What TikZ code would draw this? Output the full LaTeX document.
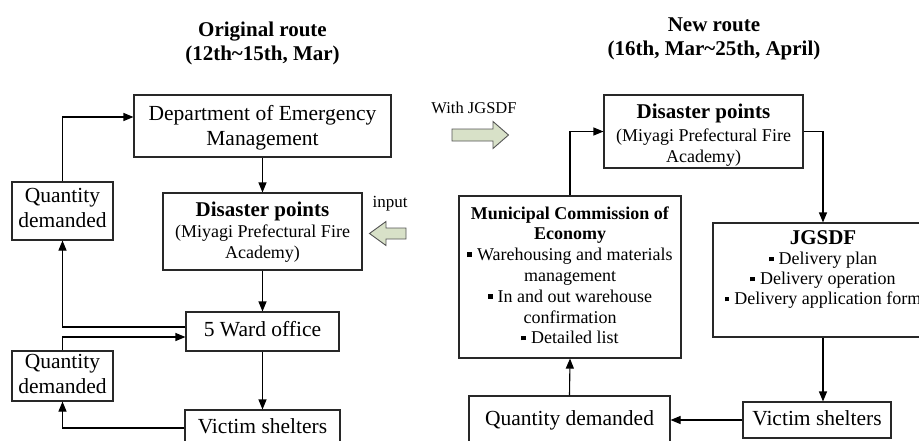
\documentclass[tikz,border=0pt]{standalone}
\usepackage{fontspec}
\setmainfont{Liberation Serif}
\usetikzlibrary{arrows.meta}
\definecolor{arrfill}{RGB}{216,225,200}
\definecolor{arrline}{RGB}{85,85,85}
\definecolor{boxline}{RGB}{40,40,40}
\newcommand\sqbul{\raisebox{0.2em}{\rule{0.26em}{0.26em}}\hspace{0.28em}}
\tikzset{
  box/.style={draw=boxline, line width=1.1pt, inner sep=0pt},
  txt/.style={inner sep=0pt, align=center},
  big/.style={font=\fontsize{21.5}{25}\selectfont},
  small/.style={font=\fontsize{18}{21}\selectfont},
  ttl/.style={inner sep=0pt, align=center, font=\fontsize{21}{24}\selectfont\bfseries},
  arr/.style={draw=black, line width=1.1pt, -{Triangle[length=10pt,width=8pt]}},
  blockarrow/.style={draw=arrline, fill=arrfill, line width=0.9pt, line join=miter}
}
\begin{document}
\begin{tikzpicture}[x=1pt,y=-1pt]
\clip (0,0) rectangle (919,440);
\fill[white] (0,0) rectangle (919,440);

% titles
\node[ttl] (t1) at (262.5,43.5) {Original route\\(12th\textasciitilde 15th, Mar)};
\node[ttl] (t2) at (714,39) {New route\\(16th, Mar\textasciitilde 25th, April)};

% ---------- left (original route) ----------
\node[box, minimum width=257, minimum height=62] (dept) at (262.5,126) {};
\node[txt, big] (deptt) at (262.5,128.2) {Department of Emergency\\Management};

\node[box, minimum width=199, minimum height=77] (dis1) at (262.5,231.5) {};
\node[txt, small] (dis1t) at (262.5,231.9) {{\fontsize{21}{21}\selectfont\bfseries Disaster points}\\(Miyagi Prefectural Fire\\Academy)};

\node[box, minimum width=101, minimum height=58] (qd1) at (62.5,211) {};
\node[txt, big] (qd1t) at (62.5,207.7) {Quantity\\demanded};

\node[box, minimum width=153, minimum height=39] (ward) at (262.5,331.5) {};
\node[inner sep=0pt, big, anchor=base] (wardt) at (262.5,336.7) {5 Ward office};

\node[box, minimum width=101, minimum height=50] (qd2) at (62.5,376) {};
\node[txt, big] (qd2t) at (62.5,373.5) {Quantity\\demanded};

\node[box, minimum width=155, minimum height=36] (vic1) at (262.5,428) {};
\node[inner sep=0pt, big, anchor=base] (vic1t) at (262.5,433) {Victim shelters};

\draw[arr] (qd1.north) |- ([yshift=9pt]dept.west);
\draw[arr] (dept.south) -- (dis1.north);
\draw[arr] (dis1.south) -- (ward.north);
\draw[arr] ([yshift=4.5pt]ward.west) -| (qd1.south);
\draw[arr] (qd2.north) |- ([yshift=-5.5pt]ward.west);
\draw[arr] (ward.south) -- (vic1.north);
\draw[arr] (vic1.west) -| (qd2.south);

% middle labels and block arrows
\node[inner sep=0pt, anchor=base, font=\fontsize{17}{20}\selectfont] (input) at (390,207.5) {input};
\node[inner sep=0pt, anchor=base, font=\fontsize{16.5}{20}\selectfont] (with) at (474,113) {With JGSDF};
\draw[blockarrow] (406,228) -- (386,228) -- (386,221.5) -- (369.5,233.5) -- (386,245.5) -- (386,239) -- (406,239) -- cycle;
\draw[blockarrow] (452,129) -- (493,129) -- (493,121.5) -- (508.5,135) -- (493,148.5) -- (493,141) -- (452,141) -- cycle;

% ---------- right (new route) ----------
\node[box, minimum width=199, minimum height=73] (dis2) at (703.5,131.5) {};
\node[txt, small] (dis2t) at (703.5,134.9) {{\fontsize{21}{21}\selectfont\bfseries Disaster points}\\[2pt](Miyagi Prefectural Fire\\Academy)};

\node[box, minimum width=222, minimum height=162] (mun) at (570,277) {};
\node[txt, font=\fontsize{18}{20.8}\selectfont] (munt) at (570,275.3) {\textbf{Municipal Commission of}\\\textbf{Economy}\\\sqbul Warehousing and materials\\management\\\sqbul In and out warehouse\\confirmation\\\sqbul Detailed list};

\node[box, minimum width=220, minimum height=114] (jg) at (823,280) {};
\node[txt, font=\fontsize{18}{20}\selectfont] (jgt) at (823,269.9) {{\fontsize{21}{20}\selectfont\bfseries JGSDF}\\\sqbul Delivery plan\\\sqbul Delivery operation\\\sqbul Delivery application form};

\node[box, minimum width=148, minimum height=36] (vic2) at (817,420) {};
\node[inner sep=0pt, big, anchor=base] (vic2t) at (817,425) {Victim shelters};

\node[box, minimum width=201, minimum height=52] (qd3) at (569.5,422) {};
\node[inner sep=0pt, big, anchor=base] (qd3t) at (569.5,425) {Quantity demanded};

\draw[arr] (mun.north) |- (dis2.west);
\draw[arr] (dis2.east) -| (jg.north);
\draw[arr] (jg.south) -- (jg.south |- vic2.north);
\draw[arr] (vic2.west) -- (vic2.west -| qd3.east);
\draw[arr] (qd3.north) -- (mun.south);
\end{tikzpicture}
\end{document}
